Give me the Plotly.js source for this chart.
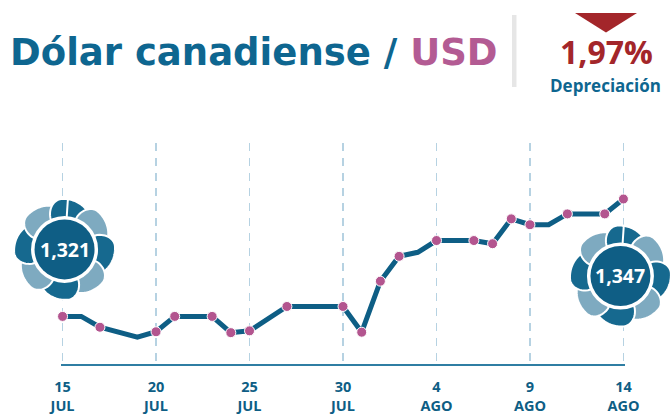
<!DOCTYPE html>
<html>
<head>
<meta charset="utf-8">
<script src="https://cdn.plot.ly/plotly-3.0.1.min.js"></script>
<style>
  html, body { margin: 0; padding: 0; background: #ffffff; }
  #chart { width: 671px; height: 414px; }
</style>
</head>
<body>
<div id="chart"></div>
<script>
// ---- Data ----
var dates = ['2024-07-15','2024-07-16','2024-07-17','2024-07-19','2024-07-20','2024-07-21',
             '2024-07-23','2024-07-24','2024-07-25','2024-07-27','2024-07-30','2024-07-31',
             '2024-08-01','2024-08-02','2024-08-03','2024-08-04','2024-08-06','2024-08-07',
             '2024-08-08','2024-08-09','2024-08-10','2024-08-11','2024-08-13','2024-08-14'];
var values = [1.3210, 1.3210, 1.3186, 1.3164, 1.3176, 1.3210,
              1.3210, 1.3174, 1.3178, 1.3232, 1.3232, 1.3175,
              1.3288, 1.3343, 1.3352, 1.3378, 1.3378, 1.3371,
              1.3426, 1.3413, 1.3413, 1.3437, 1.3437, 1.3470];
var marked = [1,0,1,0,1,1, 1,1,1,1,1,1, 1,1,0,1,1,1, 1,1,0,1,1,1];

var tickDates  = ['2024-07-15','2024-07-20','2024-07-25','2024-07-30','2024-08-04','2024-08-09','2024-08-14'];
var tickDays   = ['15','20','25','30','4','9','14'];
var tickMonths = ['JUL','JUL','JUL','JUL','AGO','AGO','AGO'];

var titleMain = 'Dólar canadiense / ';
var titlePair = 'USD';
var changeLabel = 'Depreciación';

// ---- Derived ----
function fmt(v, d) { return v.toFixed(d).replace('.', ','); }
var first = values[0], last = values[values.length - 1];
var pct = (last - first) / first * 100;
var mx = [], my = [];
for (var i = 0; i < dates.length; i++) if (marked[i]) { mx.push(dates[i]); my.push(values[i]); }
var tickText = tickDays.map(function (d, i) { return d + '<br>' + tickMonths[i]; });

// ---- Layout geometry ----
var W = 671, H = 414, L = 61, R = 46, T = 143, B = 50;
var PW = W - L - R, PH = H - T - B;
function px(x) { return (x - L) / PW; }
function py(y) { return (T + PH - y) / PH; }

var PAD = 2 * 3600 * 1000; // small pad so edge gridlines are kept
var xr = [Date.parse(dates[0]) - PAD, Date.parse(dates[dates.length - 1]) + PAD];
var yr = [1.31046, 1.35940];
function xPaper(d) { return (Date.parse(d) - xr[0]) / (xr[1] - xr[0]); }
function yPaper(v) { return (v - yr[0]) / (yr[1] - yr[0]); }

var FONT = '"Open Sans", "Noto Sans", sans-serif';
var BLUE = '#0e6690', DARK = '#0e5e85', PINK = '#b3558f', RED = '#a3262a';

// ---- Badge (flower) shapes ----
function prof(t) {
  if (t < 0.3) return Math.pow(Math.sin(Math.PI / 2 * t / 0.3), 0.6);
  return Math.pow(Math.cos(Math.PI / 2 * (t - 0.3) / 0.7), 0.5);
}
function petal(cx, cy, a0, span, rIn, rOut, tMax) {
  var N = 60, pts = [];
  for (var k = 0; k <= N; k++) {
    var t = k / N * tMax;
    var a = (a0 + t * span) * Math.PI / 180;
    var r = rIn + (rOut - rIn) * prof(t);
    pts.push([cx + r * Math.cos(a), cy + r * Math.sin(a)]);
  }
  for (var k2 = N; k2 >= 0; k2 -= 5) {
    var a2 = (a0 + k2 / N * tMax * span) * Math.PI / 180;
    pts.push([cx + (rIn - 4) * Math.cos(a2), cy + (rIn - 4) * Math.sin(a2)]);
  }
  return 'M' + pts.map(function (p) { return p[0].toFixed(2) + ',' + p[1].toFixed(2); }).join('L') + 'Z';
}
function badge(xa, ya, dx, dy, rot) {
  var s = [], cols = ['#16698f', '#7eaac0'];
  function add(i, tMax) {
    s.push({
      type: 'path', xref: 'paper', yref: 'paper', xsizemode: 'pixel', ysizemode: 'pixel',
      xanchor: xa, yanchor: ya, layer: 'above',
      path: petal(dx, dy, rot - i * 45, -72, 31, 50.5, tMax),
      fillcolor: cols[i % 2], line: { color: '#ffffff', width: 2 }
    });
  }
  for (var i = 0; i < 8; i++) add(i, 1);
  add(0, 0.4);
  s.push({ type: 'circle', xref: 'paper', yref: 'paper', xsizemode: 'pixel', ysizemode: 'pixel',
    xanchor: xa, yanchor: ya, x0: dx - 33.5, x1: dx + 33.5, y0: dy - 33.5, y1: dy + 33.5,
    fillcolor: '#ffffff', line: { width: 0 }, layer: 'above' });
  s.push({ type: 'circle', xref: 'paper', yref: 'paper', xsizemode: 'pixel', ysizemode: 'pixel',
    xanchor: xa, yanchor: ya, x0: dx - 30, x1: dx + 30, y0: dy - 30, y1: dy + 30,
    fillcolor: '#0f5e85', line: { width: 0 }, layer: 'above' });
  return s;
}

var b1x = xPaper(dates[0]), b1y = yPaper(first);
var b2x = xPaper(dates[dates.length - 1]), b2y = yPaper(last);
var shapes = [];
shapes = shapes.concat(badge(b1x, b1y, 2, 67, 115));
shapes = shapes.concat(badge(b2x, b2y, -3, -77, 115));
// divider
shapes.push({ type: 'rect', xref: 'paper', yref: 'paper', x0: px(512), x1: px(516.5), y0: py(87), y1: py(15),
  fillcolor: '#e6e6e6', line: { width: 0 }, layer: 'above' });
// red triangle
shapes.push({ type: 'path', xref: 'paper', yref: 'paper',
  path: 'M' + px(575) + ',' + py(13) + 'L' + px(637) + ',' + py(13) + 'L' + px(606) + ',' + py(32.5) + 'Z',
  fillcolor: RED, line: { width: 0 }, layer: 'above' });

var annotations = [
  { xref: 'paper', yref: 'paper', x: b1x, y: b1y, xshift: 2, yshift: 67, xanchor: 'center', yanchor: 'middle',
    showarrow: false, text: fmt(first, 3), font: { family: FONT, size: 19.5, color: '#ffffff', weight: 700 } },
  { xref: 'paper', yref: 'paper', x: b2x, y: b2y, xshift: -3, yshift: -77, xanchor: 'center', yanchor: 'middle',
    showarrow: false, text: fmt(last, 3), font: { family: FONT, size: 19.5, color: '#ffffff', weight: 700 } },
  { xref: 'paper', yref: 'paper', x: px(606), y: py(52), xanchor: 'center', yanchor: 'middle', showarrow: false,
    text: fmt(pct, 2) + '%', font: { family: FONT, size: 32, color: RED, weight: 700 } },
  { xref: 'paper', yref: 'paper', x: px(605), y: py(85), xanchor: 'center', yanchor: 'middle', showarrow: false,
    text: changeLabel, font: { family: FONT, size: 17, color: BLUE, weight: 700 } }
];

var traces = [
  { x: dates, y: values, type: 'scatter', mode: 'lines', cliponaxis: false,
    line: { color: DARK, width: 5 }, hoverinfo: 'skip' },
  { x: mx, y: my, type: 'scatter', mode: 'markers', cliponaxis: false,
    marker: { color: PINK, size: 10, line: { color: '#ffffff', width: 1 } }, hoverinfo: 'skip' }
];

var layout = {
  width: W, height: H,
  margin: { l: L, r: R, t: T, b: B, pad: 0 },
  paper_bgcolor: '#ffffff', plot_bgcolor: '#ffffff',
  showlegend: false, hovermode: false,
  title: {
    text: titleMain + '<span style="color:#b35b93">' + titlePair + '</span>',
    font: { family: '"DejaVu Sans", sans-serif', size: 37, color: BLUE, weight: 700 },
    x: 10 / W, xanchor: 'left', xref: 'container',
    y: 1 - 52 / H, yanchor: 'middle', yref: 'container'
  },
  xaxis: {
    type: 'date', range: xr,
    tickmode: 'array', tickvals: tickDates, ticktext: tickText,
    ticks: '', showline: true, linecolor: '#2f7ea3', linewidth: 2,
    showgrid: true, gridcolor: '#b6d2e2', gridwidth: 1.5, griddash: '8px,7px',
    zeroline: false, fixedrange: true, ticklabelstandoff: 9,
    tickfont: { family: FONT, size: 14.5, color: DARK, weight: 700 }
  },
  yaxis: {
    range: yr, visible: false, fixedrange: true
  },
  shapes: shapes,
  annotations: annotations
};

Plotly.newPlot('chart', traces, layout, { displayModeBar: false, staticPlot: true });
</script>
</body>
</html>
